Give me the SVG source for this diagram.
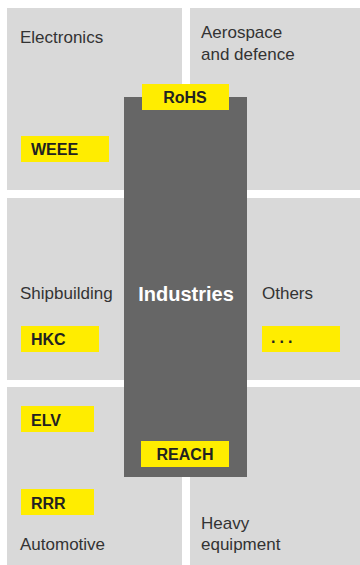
<svg xmlns="http://www.w3.org/2000/svg" width="360" height="565" viewBox="0 0 360 565">
<style>
.area{fill:#d9d9d9}
.core{fill:#666666}
.tag{fill:#ffed00}
.lbl{font-family:"Liberation Sans",Arial,sans-serif;font-size:17px;fill:#333333}
.tt{font-family:"Liberation Sans",Arial,sans-serif;font-size:16px;font-weight:bold;fill:#222222}
.hub{font-family:"Liberation Sans",Arial,sans-serif;font-size:20px;font-weight:bold;fill:#ffffff}
</style>
<rect width="360" height="565" fill="#ffffff"/>
<g id="electronics">
<rect class="area" x="7" y="8" width="175" height="182"/>
<text class="lbl" x="20" y="43">Electronics</text>
</g>
<g id="aerospace">
<rect class="area" x="190" y="8" width="170" height="182"/>
<text class="lbl" x="201" y="38">Aerospace</text>
<text class="lbl" x="201" y="60">and defence</text>
</g>
<g id="middle-row">
<rect class="area" x="7" y="198" width="353" height="182"/>
</g>
<g id="shipbuilding">
<text class="lbl" x="20" y="299">Shipbuilding</text>
</g>
<g id="others">
<text class="lbl" x="262" y="299">Others</text>
</g>
<g id="automotive">
<rect class="area" x="7" y="387" width="175" height="178"/>
<text class="lbl" x="20" y="550">Automotive</text>
</g>
<g id="heavy">
<rect class="area" x="190" y="387" width="170" height="178"/>
<text class="lbl" x="201" y="529">Heavy</text>
<text class="lbl" x="201" y="550">equipment</text>
</g>
<g id="industries">
<rect class="core" x="124" y="97" width="123" height="380"/>
<text class="hub" x="186" y="301" text-anchor="middle">Industries</text>
</g>
<g id="connectors"></g>
<g id="rohs">
<rect class="tag" x="142" y="84" width="87" height="26"/>
<text class="tt" x="185" y="103" text-anchor="middle">RoHS</text>
</g>
<g id="weee">
<rect class="tag" x="21" y="136" width="88" height="26"/>
<text class="tt" x="31" y="155">WEEE</text>
</g>
<g id="hkc">
<rect class="tag" x="21" y="326" width="78" height="26"/>
<text class="tt" x="31" y="345">HKC</text>
</g>
<g id="etc">
<rect class="tag" x="262" y="326" width="78" height="26"/>
<text class="tt" x="271" y="343" letter-spacing="4">...</text>
</g>
<g id="elv">
<rect class="tag" x="21" y="406" width="73" height="26"/>
<text class="tt" x="31" y="426">ELV</text>
</g>
<g id="rrr">
<rect class="tag" x="21" y="489" width="73" height="26"/>
<text class="tt" x="31" y="509">RRR</text>
</g>
<g id="reach">
<rect class="tag" x="141" y="441" width="88" height="26"/>
<text class="tt" x="185" y="460" text-anchor="middle">REACH</text>
</g>
</svg>
